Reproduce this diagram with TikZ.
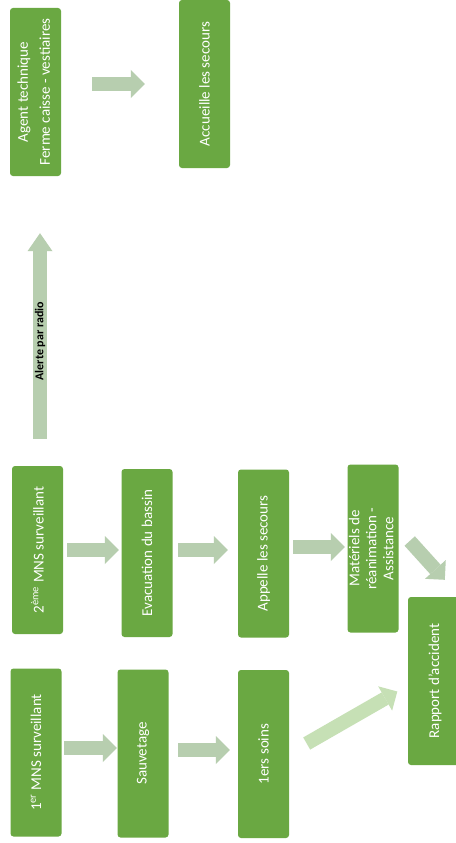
\documentclass[tikz,border=0pt]{standalone}
\usepackage{fontspec}
\setmainfont{Carlito}
\usepackage{graphicx}
\usetikzlibrary{arrows.meta,calc}
\definecolor{boxg}{RGB}{106,168,66}
\definecolor{arrg}{RGB}{183,206,175}
\definecolor{arrl}{RGB}{198,224,181}
\tikzset{
  box/.style={fill=boxg, rounded corners=3pt, minimum width=51pt, minimum height=168pt,
    inner sep=0pt, text=white, font=\fontsize{15}{17}\selectfont},
  blk/.style={draw=arrg, line width=14pt,
    -{Triangle[length=14pt,width=28pt,line width=0pt]}},
  blkup/.style={draw=arrg, line width=14pt,
    -{Triangle[length=18pt,width=25pt,line width=0pt]}},
}
\begin{document}
\begin{tikzpicture}[x=1pt,y=-1pt]
\useasboundingbox (0,0) rectangle (455,843);
\fill[white] (0,0) rectangle (455,843);

\node[box] (agent) at (35.5,92) {\rotatebox{90}{\begin{tabular}{@{}c@{}}Agent technique\\[5pt]Ferme caisse - vestiaires\end{tabular}}};
\node[box] (accueil) at (204.5,84) {\rotatebox{90}{Accueille les secours}};
\node[box] (mns2) at (37.5,550) {\rotatebox{90}{2\textsuperscript{ème} MNS surveillant}};
\node[box] (evac) at (147,553) {\rotatebox{90}{Evacuation du bassin}};
\node[box] (appelle) at (263.5,553.5) {\rotatebox{90}{Appelle les secours}};
\node[box] (mat) at (373,548.5) {\rotatebox{90}{\begin{tabular}{@{}c@{}}Matériels de\\réanimation -\\Assistance\end{tabular}}};
\node[box] (mns1) at (36,752.5) {\rotatebox{90}{1\textsuperscript{er} MNS surveillant}};
\node[box] (sauv) at (143,753.5) {\rotatebox{90}{Sauvetage}};
\node[box] (soins) at (263.5,754) {\rotatebox{90}{1ers soins}};
\node[box, minimum width=54pt] (rapport) at (435,681) {\rotatebox{90}{Rapport d'accident}};

\draw[blk, shorten <=31pt, shorten >=34pt] (agent.east |- 0,84) -- (accueil.west |- 0,84);
\draw[blk, shorten <=4pt, shorten >=2.5pt] (mns2.east |- 0,550) -- (evac.west |- 0,550);
\draw[blk, shorten <=5.5pt, shorten >=10pt] (evac.east |- 0,550) -- (appelle.west |- 0,550);
\draw[blk, shorten <=4pt, shorten >=2.5pt] (appelle.east |- 0,547) -- (mat.west |- 0,547);
\draw[blk, shorten <=2.5pt, shorten >=0.5pt] (mns1.east |- 0,748) -- (sauv.west |- 0,748);
\draw[blk, shorten <=9.5pt, shorten >=8pt] (sauv.east |- 0,750) -- (soins.west |- 0,750);
\draw[blk] ($(mat.east)+(11,-7.5)$) -- ($(rapport.north west)+(37,-17)$);
\draw[blk, draw=arrl] ($(soins.east)+(17.5,-10.5)$) -- ($(rapport.west)+(-10.5,10.5)$);
\draw[blkup, shorten <=27pt, shorten >=57pt] (mns2.north -| 40,0) -- (agent.south -| 40,0)
  node[pos=0.43, rotate=90, text=black, font=\bfseries\fontsize{12}{14}\selectfont] {Alerte par radio};
\end{tikzpicture}
\end{document}
